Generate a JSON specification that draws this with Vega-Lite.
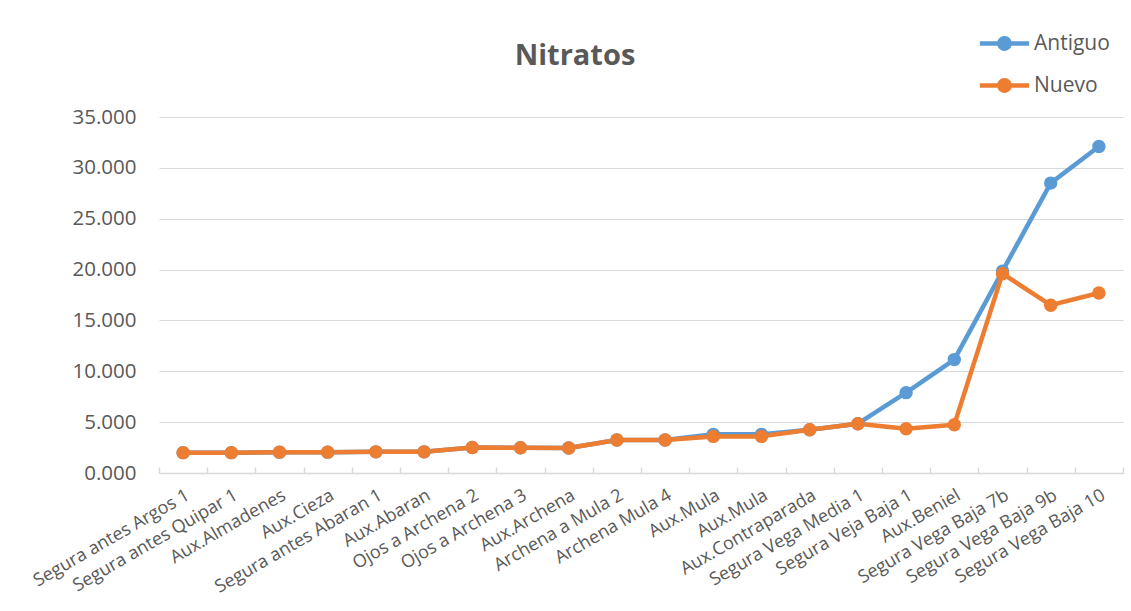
{
  "$schema": "https://vega.github.io/schema/vega-lite/v6.json",
  "width": 964,
  "height": 356,
  "autosize": {"type": "none"},
  "padding": {"left": 159, "top": 117, "right": 8, "bottom": 138},
  "background": "white",
  "title": {
    "text": "Nitratos",
    "fontSize": 29,
    "font": "Open Sans",
    "fontWeight": "bold",
    "color": "#595959",
    "anchor": "middle",
    "dx": -66,
    "dy": 48,
    "offset": 0
  },
  "data": {
    "values": [
      {"idx": 0, "serie": "Antiguo", "valor": 2.0},
      {"idx": 1, "serie": "Antiguo", "valor": 2.0},
      {"idx": 2, "serie": "Antiguo", "valor": 2.05},
      {"idx": 3, "serie": "Antiguo", "valor": 2.05},
      {"idx": 4, "serie": "Antiguo", "valor": 2.08},
      {"idx": 5, "serie": "Antiguo", "valor": 2.08},
      {"idx": 6, "serie": "Antiguo", "valor": 2.5},
      {"idx": 7, "serie": "Antiguo", "valor": 2.48},
      {"idx": 8, "serie": "Antiguo", "valor": 2.45},
      {"idx": 9, "serie": "Antiguo", "valor": 3.25},
      {"idx": 10, "serie": "Antiguo", "valor": 3.25},
      {"idx": 11, "serie": "Antiguo", "valor": 3.8},
      {"idx": 12, "serie": "Antiguo", "valor": 3.8},
      {"idx": 13, "serie": "Antiguo", "valor": 4.25},
      {"idx": 14, "serie": "Antiguo", "valor": 4.85},
      {"idx": 15, "serie": "Antiguo", "valor": 7.9},
      {"idx": 16, "serie": "Antiguo", "valor": 11.15},
      {"idx": 17, "serie": "Antiguo", "valor": 19.85},
      {"idx": 18, "serie": "Antiguo", "valor": 28.5},
      {"idx": 19, "serie": "Antiguo", "valor": 32.1},
      {"idx": 0, "serie": "Nuevo", "valor": 2.0},
      {"idx": 1, "serie": "Nuevo", "valor": 2.0},
      {"idx": 2, "serie": "Nuevo", "valor": 2.05},
      {"idx": 3, "serie": "Nuevo", "valor": 2.05},
      {"idx": 4, "serie": "Nuevo", "valor": 2.08},
      {"idx": 5, "serie": "Nuevo", "valor": 2.08},
      {"idx": 6, "serie": "Nuevo", "valor": 2.5},
      {"idx": 7, "serie": "Nuevo", "valor": 2.48},
      {"idx": 8, "serie": "Nuevo", "valor": 2.45},
      {"idx": 9, "serie": "Nuevo", "valor": 3.25},
      {"idx": 10, "serie": "Nuevo", "valor": 3.25},
      {"idx": 11, "serie": "Nuevo", "valor": 3.6},
      {"idx": 12, "serie": "Nuevo", "valor": 3.6},
      {"idx": 13, "serie": "Nuevo", "valor": 4.25},
      {"idx": 14, "serie": "Nuevo", "valor": 4.85},
      {"idx": 15, "serie": "Nuevo", "valor": 4.35},
      {"idx": 16, "serie": "Nuevo", "valor": 4.75},
      {"idx": 17, "serie": "Nuevo", "valor": 19.6},
      {"idx": 18, "serie": "Nuevo", "valor": 16.5},
      {"idx": 19, "serie": "Nuevo", "valor": 17.7}
    ]
  },
  "encoding": {
    "x": {
      "field": "idx",
      "type": "ordinal",
      "scale": {"type": "band", "paddingInner": 0, "paddingOuter": 0},
      "axis": {
        "title": null,
        "labelExpr": "['Segura antes Argos 1','Segura antes Quipar 1','Aux.Almadenes','Aux.Cieza','Segura antes Abaran 1','Aux.Abaran','Ojos a Archena 2','Ojos a Archena 3','Aux.Archena','Archena a Mula 2','Archena Mula 4','Aux.Mula','Aux.Mula','Aux.Contraparada','Segura Vega Media 1','Segura Veja Baja 1','Aux.Beniel','Segura Vega Baja 7b','Segura Vega Baja 9b','Segura Vega Baja 10'][datum.value]",
        "labelAngle": -30,
        "labelAlign": "right",
        "labelBaseline": "top",
        "labelFont": "Open Sans",
        "labelFontSize": 18,
        "labelColor": "#595959",
        "labelPadding": 19,
        "labelLimit": 400,
        "labelOverlap": false,
        "labelBound": false,
        "tickBand": "extent",
        "ticks": true,
        "tickColor": "#D9D9D9",
        "tickWidth": 1.5,
        "tickSize": -6,
        "domainColor": "#D9D9D9",
        "domainWidth": 1.5,
        "grid": false
      }
    },
    "y": {
      "field": "valor",
      "type": "quantitative",
      "scale": {"domain": [0, 35], "nice": false},
      "axis": {
        "title": null,
        "values": [0, 5, 10, 15, 20, 25, 30, 35],
        "format": ".3f",
        "labelFont": "Open Sans",
        "labelFontSize": 20.5,
        "labelColor": "#595959",
        "labelPadding": 23,
        "ticks": false,
        "domain": false,
        "grid": true,
        "gridColor": "#D9D9D9",
        "gridWidth": 1.2
      }
    },
    "color": {
      "field": "serie",
      "type": "nominal",
      "scale": {"domain": ["Antiguo", "Nuevo"], "range": ["#5B9BD5", "#ED7D31"]},
      "legend": {
        "title": null,
        "orient": "none",
        "legendX": 825,
        "legendY": -94,
        "padding": 0,
        "rowPadding": 11,
        "labelFont": "Open Sans",
        "labelFontSize": 21,
        "labelColor": "#595959",
        "labelOffset": 9,
        "symbolType": "M-1.2,-0.11H1.2V0.11H-1.2Z M-0.36,0A0.36,0.36 0 1,1 0.36,0A0.36,0.36 0 1,1 -0.36,0Z",
        "symbolSize": 1681,
        "symbolStrokeWidth": 0,
        "encode": {
          "symbols": {
            "update": {
              "fill": {"scale": "color", "field": "value"},
              "strokeWidth": {"value": 0},
              "opacity": {"value": 1}
            }
          }
        }
      }
    }
  },
  "layer": [
    {
      "mark": {"type": "line", "strokeWidth": 4.5, "strokeJoin": "round"},
      "encoding": {"detail": {"field": "serie"}}
    },
    {
      "mark": {"type": "point", "filled": true, "size": 180, "opacity": 1, "shape": "circle"}
    }
  ],
  "config": {
    "view": {"stroke": null}
  }
}
